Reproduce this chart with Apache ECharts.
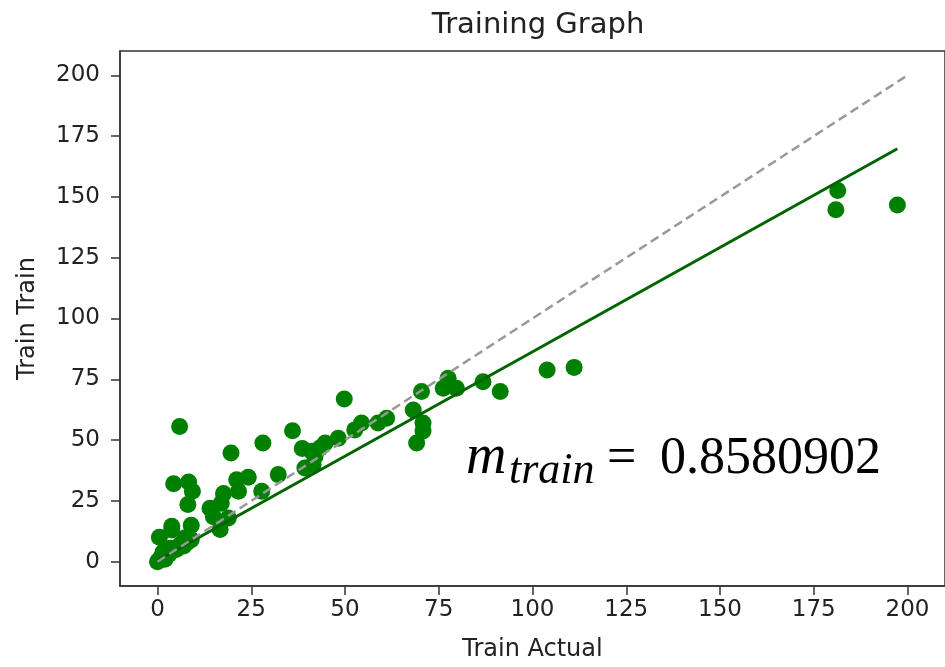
<!DOCTYPE html>
<html>
<head>
<meta charset="utf-8">
<script src="https://cdn.jsdelivr.net/npm/echarts@6/dist/echarts.min.js"></script>
<style>
html,body{margin:0;padding:0;background:#fff;}
#chart{width:945px;height:667px;}
</style>
</head>
<body>
<div id="chart"></div>
<script>
// ---- data ----
var actualX = [0, 0.3, 1, 1.5, 2, 3, 3.5, 5, 6, 7, 8, 9, 0.5, 3.8, 3.8, 7.4, 9, 4.3, 8.3, 9.3, 8.1, 5.9,
  14, 14.9, 16.7, 17.6, 17, 18.9, 19.6, 21.1, 21.6, 24.2, 27.8, 28.1, 32.2, 36, 38.6, 39.3, 41.5, 41.1, 42,
  43.3, 44.7, 48.2, 49.8, 52.6, 54.4, 58.8, 61.1, 68.2, 69.1, 70.8, 70.8, 70.4, 76.2, 77.5, 79.7, 86.8,
  91.4, 103.9, 111.1, 180.9, 181.4, 197.3];
var predictedY = [0, 0.5, 2, 4, 1, 3, 5.5, 5, 7, 6.5, 8, 9, 10, 13, 14.6, 9.8, 15, 32, 32.8, 29, 23.5, 55.6,
  22, 18.5, 13.2, 28, 24, 18, 44.7, 33.7, 29, 34.7, 29, 48.8, 35.8, 53.8, 46.5, 38.5, 40, 45.4, 43.3,
  46.7, 48.8, 50.8, 66.9, 54.2, 57, 57, 59, 62.4, 48.8, 57, 53.7, 70, 71.3, 75.4, 71.3, 74,
  70, 78.8, 79.9, 144.7, 152.6, 146.7];
var fitLineX = [0, 197.3];
var fitLineY = [0.5, 169.8];
var identityX = [0, 200];
var identityY = [0, 200];
var tickValues = [0, 25, 50, 75, 100, 125, 150, 175, 200];
var titleText = 'Training Graph';
var xName = 'Train Actual';
var yName = 'Train Train';
var slopeText = '0.8580902';

function zip(a, b) { return a.map(function (v, i) { return [v, b[i]]; }); }

var chart = echarts.init(document.getElementById('chart'), null, {renderer: 'canvas'});
var FONT = "'DejaVu Sans', sans-serif";
var axisCommon = {
  type: 'value', min: -10, max: 210,
  nameLocation: 'middle',
  nameTextStyle: {fontFamily: FONT, fontSize: 24, color: '#222'},
  axisLine: {show: true, onZero: false, lineStyle: {color: '#333', width: 1.5}},
  axisTick: {show: true, inside: false, length: 9, lineStyle: {color: '#333', width: 1.5}, customValues: tickValues},
  axisLabel: {fontFamily: FONT, fontSize: 23, color: '#222', customValues: tickValues},
  splitLine: {show: false}
};

var option = {
  animation: false,
  backgroundColor: '#fff',
  title: {
    text: titleText, left: 533, top: 6, textAlign: 'center',
    textStyle: {fontFamily: FONT, fontSize: 29, fontWeight: 'normal', color: '#222'}
  },
  grid: {left: 120, top: 51, width: 826, height: 538, show: true, borderColor: '#333', borderWidth: 1.5, backgroundColor: 'transparent'},
  xAxis: Object.assign({}, axisCommon, {
    name: xName, nameGap: 52,
    axisLabel: Object.assign({}, axisCommon.axisLabel, {margin: 13})
  }),
  yAxis: Object.assign({}, axisCommon, {
    name: yName, nameGap: 80,
    axisLabel: Object.assign({}, axisCommon.axisLabel, {margin: 20})
  }),
  series: [
    {
      type: 'scatter', data: zip(actualX, predictedY), symbolSize: 17,
      itemStyle: {color: '#008000', opacity: 1}, z: 2
    },
    {
      type: 'line', data: zip(fitLineX, fitLineY), showSymbol: false, symbol: 'none',
      lineStyle: {color: '#006400', width: 3}, z: 3
    },
    {
      type: 'line', data: zip(identityX, identityY), showSymbol: false, symbol: 'none',
      lineStyle: {color: '#999', width: 2.5, type: [9, 5]}, z: 4
    }
  ],
  graphic: [
    {type: 'text', left: 466, top: 430, style: {text: 'm', font: "italic 56px 'Liberation Serif', serif", fill: '#000'}},
    {type: 'text', left: 509, top: 449, style: {text: 'train', font: "italic 44px 'Liberation Serif', serif", fill: '#000'}},
    {type: 'text', left: 607, top: 433, style: {text: '=', font: "52px 'Liberation Serif', serif", fill: '#000'}},
    {type: 'text', left: 660, top: 433, style: {text: slopeText, font: "52px 'Liberation Serif', serif", fill: '#000'}}
  ]
};
chart.setOption(option);
</script>
</body>
</html>
